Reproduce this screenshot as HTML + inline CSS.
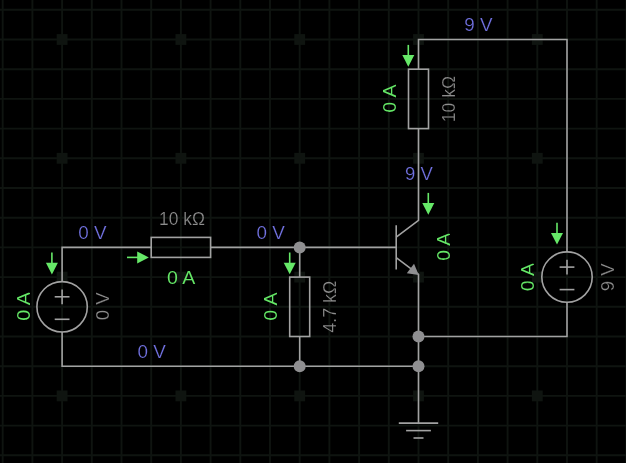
<!DOCTYPE html><html><head><meta charset="utf-8"><title>Circuit</title><style>html,body{margin:0;padding:0;background:#000;}svg{display:block}#txt{will-change:opacity;opacity:.999}#txt text{stroke:#000;stroke-width:.2px}#txt text.g{stroke-width:.05px}text{font-family:"Liberation Sans",sans-serif;}</style></head><body>
<svg width="626" height="463" viewBox="0 0 626 463">
<rect width="626" height="463" fill="#000"/>
<g stroke="#0f1410" stroke-width="1.9">
<line x1="2.70" y1="0" x2="2.70" y2="463"/>
<line x1="32.40" y1="0" x2="32.40" y2="463"/>
<line x1="62.10" y1="0" x2="62.10" y2="463"/>
<line x1="91.80" y1="0" x2="91.80" y2="463"/>
<line x1="121.50" y1="0" x2="121.50" y2="463"/>
<line x1="151.20" y1="0" x2="151.20" y2="463"/>
<line x1="180.90" y1="0" x2="180.90" y2="463"/>
<line x1="210.60" y1="0" x2="210.60" y2="463"/>
<line x1="240.30" y1="0" x2="240.30" y2="463"/>
<line x1="270.00" y1="0" x2="270.00" y2="463"/>
<line x1="299.70" y1="0" x2="299.70" y2="463"/>
<line x1="329.40" y1="0" x2="329.40" y2="463"/>
<line x1="359.10" y1="0" x2="359.10" y2="463"/>
<line x1="388.80" y1="0" x2="388.80" y2="463"/>
<line x1="418.50" y1="0" x2="418.50" y2="463"/>
<line x1="448.20" y1="0" x2="448.20" y2="463"/>
<line x1="477.90" y1="0" x2="477.90" y2="463"/>
<line x1="507.60" y1="0" x2="507.60" y2="463"/>
<line x1="537.30" y1="0" x2="537.30" y2="463"/>
<line x1="567.00" y1="0" x2="567.00" y2="463"/>
<line x1="596.70" y1="0" x2="596.70" y2="463"/>
<line x1="626.40" y1="0" x2="626.40" y2="463"/>
<line x1="0" y1="9.80" x2="626" y2="9.80"/>
<line x1="0" y1="39.50" x2="626" y2="39.50"/>
<line x1="0" y1="69.20" x2="626" y2="69.20"/>
<line x1="0" y1="98.90" x2="626" y2="98.90"/>
<line x1="0" y1="128.60" x2="626" y2="128.60"/>
<line x1="0" y1="158.30" x2="626" y2="158.30"/>
<line x1="0" y1="188.00" x2="626" y2="188.00"/>
<line x1="0" y1="217.70" x2="626" y2="217.70"/>
<line x1="0" y1="247.40" x2="626" y2="247.40"/>
<line x1="0" y1="277.10" x2="626" y2="277.10"/>
<line x1="0" y1="306.80" x2="626" y2="306.80"/>
<line x1="0" y1="336.50" x2="626" y2="336.50"/>
<line x1="0" y1="366.20" x2="626" y2="366.20"/>
<line x1="0" y1="395.90" x2="626" y2="395.90"/>
<line x1="0" y1="425.60" x2="626" y2="425.60"/>
<line x1="0" y1="455.30" x2="626" y2="455.30"/>
</g>
<g fill="#0f1410">
<rect x="-62.10" y="-84.70" width="10.8" height="10.8"/>
<rect x="-62.10" y="34.10" width="10.8" height="10.8"/>
<rect x="-62.10" y="152.90" width="10.8" height="10.8"/>
<rect x="-62.10" y="271.70" width="10.8" height="10.8"/>
<rect x="-62.10" y="390.50" width="10.8" height="10.8"/>
<rect x="-62.10" y="509.30" width="10.8" height="10.8"/>
<rect x="56.70" y="-84.70" width="10.8" height="10.8"/>
<rect x="56.70" y="34.10" width="10.8" height="10.8"/>
<rect x="56.70" y="152.90" width="10.8" height="10.8"/>
<rect x="56.70" y="271.70" width="10.8" height="10.8"/>
<rect x="56.70" y="390.50" width="10.8" height="10.8"/>
<rect x="56.70" y="509.30" width="10.8" height="10.8"/>
<rect x="175.50" y="-84.70" width="10.8" height="10.8"/>
<rect x="175.50" y="34.10" width="10.8" height="10.8"/>
<rect x="175.50" y="152.90" width="10.8" height="10.8"/>
<rect x="175.50" y="271.70" width="10.8" height="10.8"/>
<rect x="175.50" y="390.50" width="10.8" height="10.8"/>
<rect x="175.50" y="509.30" width="10.8" height="10.8"/>
<rect x="294.30" y="-84.70" width="10.8" height="10.8"/>
<rect x="294.30" y="34.10" width="10.8" height="10.8"/>
<rect x="294.30" y="152.90" width="10.8" height="10.8"/>
<rect x="294.30" y="271.70" width="10.8" height="10.8"/>
<rect x="294.30" y="390.50" width="10.8" height="10.8"/>
<rect x="294.30" y="509.30" width="10.8" height="10.8"/>
<rect x="413.10" y="-84.70" width="10.8" height="10.8"/>
<rect x="413.10" y="34.10" width="10.8" height="10.8"/>
<rect x="413.10" y="152.90" width="10.8" height="10.8"/>
<rect x="413.10" y="271.70" width="10.8" height="10.8"/>
<rect x="413.10" y="390.50" width="10.8" height="10.8"/>
<rect x="413.10" y="509.30" width="10.8" height="10.8"/>
<rect x="531.90" y="-84.70" width="10.8" height="10.8"/>
<rect x="531.90" y="34.10" width="10.8" height="10.8"/>
<rect x="531.90" y="152.90" width="10.8" height="10.8"/>
<rect x="531.90" y="271.70" width="10.8" height="10.8"/>
<rect x="531.90" y="390.50" width="10.8" height="10.8"/>
<rect x="531.90" y="509.30" width="10.8" height="10.8"/>
<rect x="650.70" y="-84.70" width="10.8" height="10.8"/>
<rect x="650.70" y="34.10" width="10.8" height="10.8"/>
<rect x="650.70" y="152.90" width="10.8" height="10.8"/>
<rect x="650.70" y="271.70" width="10.8" height="10.8"/>
<rect x="650.70" y="390.50" width="10.8" height="10.8"/>
<rect x="650.70" y="509.30" width="10.8" height="10.8"/>
</g>
<g stroke="#a2a2a2" stroke-width="1.6" fill="none" stroke-linecap="butt" stroke-linejoin="miter">
<polyline points="62.10,281.60 62.10,247.40 151.20,247.40"/>
<polyline points="62.10,332.00 62.10,366.20 418.50,366.20"/>
<circle cx="62.10" cy="306.80" r="25.2"/>
<rect x="151.20" y="237.40" width="59.40" height="20"/>
<line x1="210.60" y1="247.40" x2="396.2" y2="247.40"/>
<line x1="299.70" y1="247.40" x2="299.70" y2="277.10"/>
<rect x="289.70" y="277.10" width="20" height="59.40"/>
<line x1="299.70" y1="336.50" x2="299.70" y2="366.20"/>
<line x1="396.2" y1="225.20" x2="396.2" y2="269.60"/>
<polyline points="396.2,237.20 418.50,220.40 418.50,128.60"/>
<polyline points="396.2,257.60 418.50,274.40 418.50,366.20"/>
<rect x="408.50" y="69.20" width="20" height="59.40"/>
<polyline points="418.50,69.20 418.50,39.50 567.00,39.50 567.00,251.90"/>
<circle cx="567.00" cy="277.10" r="25.2"/>
<polyline points="567.00,302.30 567.00,336.50 418.50,336.50"/>
<line x1="54.70" y1="296.80" x2="69.50" y2="296.80"/>
<line x1="62.10" y1="289.40" x2="62.10" y2="304.20"/>
<line x1="54.70" y1="319.30" x2="69.50" y2="319.30"/>
<line x1="559.60" y1="267.10" x2="574.40" y2="267.10"/>
<line x1="567.00" y1="259.70" x2="567.00" y2="274.50"/>
<line x1="559.60" y1="289.60" x2="574.40" y2="289.60"/>
<line x1="418.50" y1="366.20" x2="418.50" y2="423.1"/>
<line x1="398.80" y1="423.1" x2="438.20" y2="423.1"/>
<line x1="406.10" y1="430.6" x2="430.90" y2="430.6"/>
<line x1="413.50" y1="438.0" x2="423.50" y2="438.0"/>
</g>
<polygon fill="#8f8f91" points="418.80,274.90 406.80,273.37 414.02,263.79"/>
<circle cx="299.70" cy="247.40" r="6" fill="#8f8f91"/>
<circle cx="299.70" cy="366.20" r="6" fill="#8f8f91"/>
<circle cx="418.50" cy="336.50" r="6" fill="#8f8f91"/>
<circle cx="418.50" cy="366.20" r="6" fill="#8f8f91"/>
<line x1="51.90" y1="252.60" x2="51.90" y2="266.40" stroke="#66e868" stroke-width="1.6"/>
<polygon fill="#66e868" points="51.90,274.40 45.90,262.80 57.90,262.80"/>
<line y1="257.40" x1="127.00" y2="257.40" x2="140.80" stroke="#66e868" stroke-width="1.6"/>
<polygon fill="#66e868" points="148.80,257.40 137.20,251.40 137.20,263.40"/>
<line x1="289.70" y1="252.50" x2="289.70" y2="266.30" stroke="#66e868" stroke-width="1.6"/>
<polygon fill="#66e868" points="289.70,274.30 283.70,262.70 295.70,262.70"/>
<line x1="408.30" y1="44.90" x2="408.30" y2="58.70" stroke="#66e868" stroke-width="1.6"/>
<polygon fill="#66e868" points="408.30,66.70 402.30,55.10 414.30,55.10"/>
<line x1="428.30" y1="192.90" x2="428.30" y2="206.70" stroke="#66e868" stroke-width="1.6"/>
<polygon fill="#66e868" points="428.30,214.70 422.30,203.10 434.30,203.10"/>
<line x1="557.00" y1="222.80" x2="557.00" y2="236.60" stroke="#66e868" stroke-width="1.6"/>
<polygon fill="#66e868" points="557.00,244.60 551.00,233.00 563.00,233.00"/>
<g id="txt">
<text x="478.40" y="31.30" fill="#7373e2" font-size="18" text-anchor="middle" textLength="28.3" lengthAdjust="spacingAndGlyphs">9 V</text>
<text x="419.00" y="179.50" fill="#7373e2" font-size="18" text-anchor="middle" textLength="27.8" lengthAdjust="spacingAndGlyphs">9 V</text>
<text x="92.50" y="239.20" fill="#7373e2" font-size="18" text-anchor="middle" textLength="28.3" lengthAdjust="spacingAndGlyphs">0 V</text>
<text x="270.70" y="239.10" fill="#7373e2" font-size="18" text-anchor="middle" textLength="28.3" lengthAdjust="spacingAndGlyphs">0 V</text>
<text x="151.70" y="357.90" fill="#7373e2" font-size="18" text-anchor="middle" textLength="28.3" lengthAdjust="spacingAndGlyphs">0 V</text>
<text x="182.00" y="224.90" fill="#8e8e8e" font-size="18" text-anchor="middle" textLength="45.8" lengthAdjust="spacingAndGlyphs">10 k&#937;</text>
<text class="g" x="181.10" y="283.70" fill="#66e868" font-size="18" text-anchor="middle" textLength="28.3" lengthAdjust="spacingAndGlyphs">0 A</text>
<text class="g" transform="translate(29.80,306.40) rotate(-90)" fill="#66e868" font-size="18" text-anchor="middle" textLength="28.8" lengthAdjust="spacingAndGlyphs">0 A</text>
<text transform="translate(108.60,306.40) rotate(-90)" fill="#8e8e8e" font-size="18" text-anchor="middle" textLength="27.8" lengthAdjust="spacingAndGlyphs">0 V</text>
<text class="g" transform="translate(277.20,306.50) rotate(-90)" fill="#66e868" font-size="18" text-anchor="middle" textLength="28.3" lengthAdjust="spacingAndGlyphs">0 A</text>
<text transform="translate(336.30,306.70) rotate(-90)" fill="#8e8e8e" font-size="18" text-anchor="middle" textLength="51.9" lengthAdjust="spacingAndGlyphs">4.7 k&#937;</text>
<text class="g" transform="translate(395.80,98.60) rotate(-90)" fill="#66e868" font-size="18" text-anchor="middle" textLength="28.3" lengthAdjust="spacingAndGlyphs">0 A</text>
<text transform="translate(455.40,99.10) rotate(-90)" fill="#8e8e8e" font-size="18" text-anchor="middle" textLength="46.3" lengthAdjust="spacingAndGlyphs">10 k&#937;</text>
<text class="g" transform="translate(449.80,246.80) rotate(-90)" fill="#66e868" font-size="18" text-anchor="middle" textLength="27.8" lengthAdjust="spacingAndGlyphs">0 A</text>
<text class="g" transform="translate(534.40,277.10) rotate(-90)" fill="#66e868" font-size="18" text-anchor="middle" textLength="28.3" lengthAdjust="spacingAndGlyphs">0 A</text>
<text transform="translate(613.70,277.40) rotate(-90)" fill="#8e8e8e" font-size="18" text-anchor="middle" textLength="27.8" lengthAdjust="spacingAndGlyphs">9 V</text>
</g>
</svg></body></html>
